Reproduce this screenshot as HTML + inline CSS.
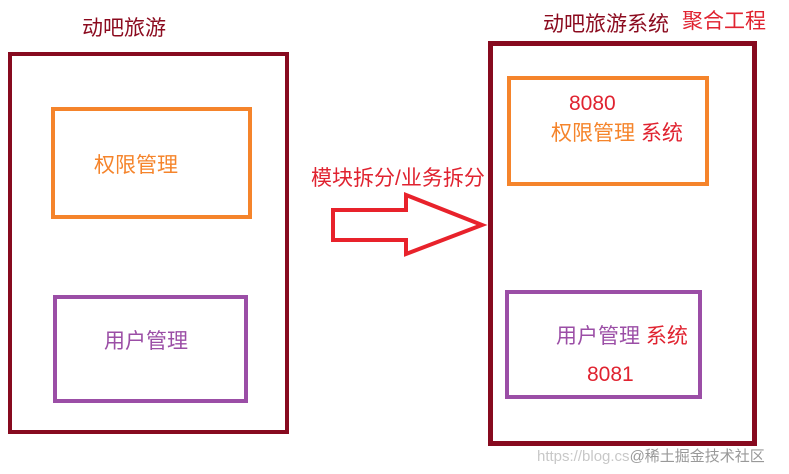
<!DOCTYPE html>
<html><head><meta charset="utf-8"><style>
body{margin:0;width:789px;height:474px;background:#fff;position:relative;overflow:hidden;font-family:"Liberation Sans","Noto Sans CJK SC",sans-serif}
.b{position:absolute;box-sizing:border-box}
.t{position:absolute;white-space:nowrap;font-size:21px;line-height:24px}
</style></head><body>
<div class="t" style="left:82px;top:17px;color:#8b0a1e">动吧旅游</div>
<div class="b" style="left:8px;top:52px;width:281px;height:382px;border:4px solid #870a1f"></div>
<div class="b" style="left:51px;top:107px;width:201px;height:112px;border:4px solid #f5842b"></div>
<div class="t" style="left:94px;top:154px;color:#f5842b">权限管理</div>
<div class="b" style="left:53px;top:295px;width:195px;height:108px;border:4px solid #9b4ea6"></div>
<div class="t" style="left:104px;top:330px;color:#9b4ea6">用户管理</div>

<div class="t" style="left:311px;top:167px;color:#e02330">模块拆分/业务拆分</div>
<svg style="position:absolute;left:0;top:0" width="789" height="474">
<polygon points="333,210 406,210 406,195 482,225 406,254 406,240 333,240" fill="none" stroke="#e8222b" stroke-width="4" stroke-linejoin="miter"/>
</svg>

<div class="t" style="left:543px;top:13px;color:#8b0a1e">动吧旅游系统</div>
<div class="t" style="left:682px;top:10px;color:#e02330">聚合工程</div>
<div class="b" style="left:488px;top:41px;width:269px;height:405px;border:5px solid #870a1f"></div>
<div class="b" style="left:507px;top:76px;width:202px;height:110px;border:4px solid #f5842b"></div>
<div class="t" style="left:569px;top:92px;color:#e02330">8080</div>
<div class="t" style="left:551px;top:122px;color:#f5842b">权限管理 <span style="color:#e02330">系统</span></div>
<div class="b" style="left:505px;top:290px;width:197px;height:109px;border:4px solid #9b4ea6"></div>
<div class="t" style="left:556px;top:325px;color:#9b4ea6">用户管理 <span style="color:#e02330">系统</span></div>
<div class="t" style="left:587px;top:363px;color:#e02330">8081</div>
<div class="t" style="left:537px;top:448px;font-size:15px;line-height:18px;color:#c8c8c8">https://blog.cs<span style="color:#999">@稀土掘金技术社区</span></div>
</body></html>
